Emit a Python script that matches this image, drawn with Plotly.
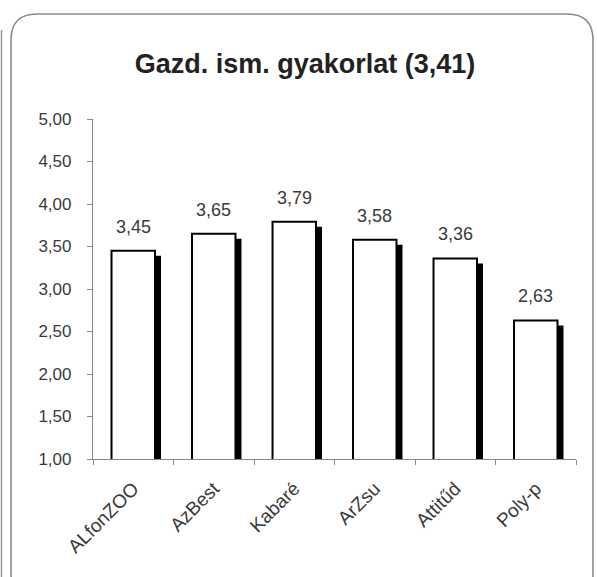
import plotly.graph_objects as go

categories = ["ALfonZOO", "AzBest", "Kabaré", "ArZsu", "Attitűd", "Poly-p"]
values = [3.45, 3.65, 3.79, 3.58, 3.36, 2.63]
title_text = "Gazd. ism. gyakorlat (3,41)"
y_ticks = [1.0, 1.5, 2.0, 2.5, 3.0, 3.5, 4.0, 4.5, 5.0]

W, H = 597, 577
L, R, T, B = 93, 576, 119, 459

def px(x):
    return (x - L) / (R - L)

def py(y):
    return (B - y) / (B - T)

bw = 0.54
dx = 6 / ((R - L) / len(categories))
dy = 5 / ((B - T) / 4)

FONT = "Liberation Sans, Arial"

fig = go.Figure()
fig.add_trace(go.Bar(
    x=categories, y=[v - dy for v in values], width=bw, offset=-bw / 2 + dx,
    marker=dict(color="black", line=dict(width=0)), hoverinfo="skip",
))
fig.add_trace(go.Bar(
    x=categories, y=values, width=bw, offset=-bw / 2,
    marker=dict(color="white", line=dict(color="black", width=2)),
))

annotations = [
    dict(x=c, y=v, xref="x", yref="y", text=f"{v:.2f}".replace(".", ","),
         showarrow=False, yanchor="bottom", yshift=12,
         font=dict(family=FONT, size=18, color="#3a3a3a"))
    for c, v in zip(categories, values)
]

# rounded frame
x0, x1, y0, y1, r = 11, 593, 14, 600, 26
path = (f"M {px(x0+r)},{py(y0)} L {px(x1-r)},{py(y0)} Q {px(x1)},{py(y0)} {px(x1)},{py(y0+r)} "
        f"L {px(x1)},{py(y1-r)} Q {px(x1)},{py(y1)} {px(x1-r)},{py(y1)} "
        f"L {px(x0+r)},{py(y1)} Q {px(x0)},{py(y1)} {px(x0)},{py(y1-r)} "
        f"L {px(x0)},{py(y0+r)} Q {px(x0)},{py(y0)} {px(x0+r)},{py(y0)} Z")
shapes = [
    dict(type="path", path=path, xref="paper", yref="paper",
         line=dict(color="#8a8a8a", width=1.6), layer="below"),
    dict(type="line", xref="paper", yref="paper", x0=px(1.5), x1=px(1.5), y0=py(30), y1=py(600),
         line=dict(color="#999", width=1.5), layer="below"),
]

fig.update_layout(
    width=W, height=H,
    margin=dict(l=L, r=W - R, t=T, b=H - B, pad=0),
    paper_bgcolor="white", plot_bgcolor="white",
    barmode="overlay", showlegend=False,
    separators=", ",
    shapes=shapes, annotations=annotations,
    font=dict(family=FONT, color="#333"),
    title=dict(text="<b>" + title_text + "</b>", x=305 / W, xanchor="center",
               y=1 - 64 / H, yanchor="middle",
               font=dict(family=FONT, size=27, color="#222")),
    yaxis=dict(range=[1, 5], tickvals=y_ticks, tickformat=".2f", showgrid=False,
               showline=True, linecolor="#888", linewidth=1.2, ticks="outside",
               ticklen=5, tickcolor="#888", tickfont=dict(size=17, color="#3a3a3a"),
               ticklabelstandoff=12, zeroline=False),
    xaxis=dict(showline=True, linecolor="#888", linewidth=1.2, ticks="outside",
               tickson="boundaries", ticklen=5, tickcolor="#888", tickangle=-45,
               tickfont=dict(size=19, color="#3a3a3a"), ticklabelstandoff=10,
               showgrid=False),
)

fig.write_html("out.html", post_script="document.body.style.margin='0';",
               config={"displayModeBar": False})
